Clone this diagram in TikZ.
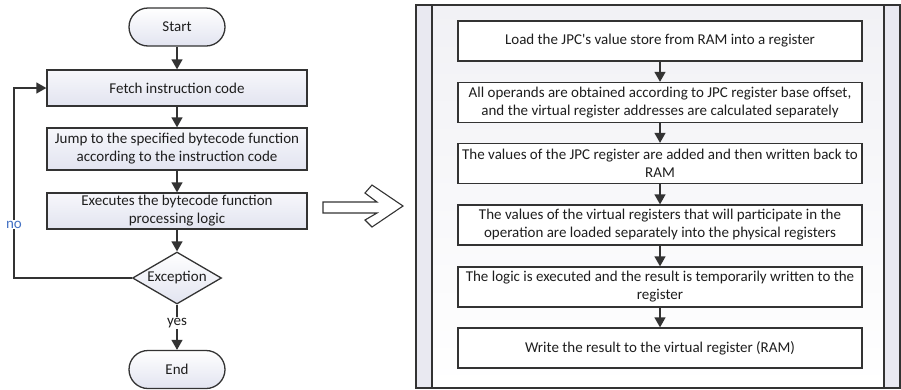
\documentclass[tikz,border=0pt]{standalone}
\usepackage{fontspec}
\setmainfont{Carlito}
\usetikzlibrary{arrows.meta,shapes.geometric}

\definecolor{linecol}{HTML}{333333}
\definecolor{txtcol}{HTML}{1E1E1E}
\definecolor{boxtop}{HTML}{F7F7FB}
\definecolor{boxbot}{HTML}{E2E4F0}
\definecolor{stripcol}{HTML}{E9E9F1}
\definecolor{panelbot}{HTML}{FFFFFF}
\definecolor{paneltop}{HTML}{F1F1F5}
\definecolor{nocol}{HTML}{4472C4}

\begin{document}
\begin{tikzpicture}[x=1pt,y=-1pt,
  font=\fontsize{15}{18}\selectfont, text=txtcol,
  base/.style={draw=linecol, line width=1.3pt, inner sep=1pt, align=center},
  procbox/.style={base, top color=boxtop, bottom color=boxbot,
    minimum width=260pt},
  termbox/.style={base, top color=white, bottom color=boxbot,
    rounded corners=19pt, minimum width=96pt, minimum height=38pt},
  decision/.style={base, shape=diamond, aspect=1.7, inner sep=0pt,
    top color=white, bottom color=boxbot,
    minimum width=89pt, minimum height=52pt},
  stepbox/.style={base, fill=white, minimum width=404pt, minimum height=40pt},
  flow/.style={draw=linecol, line width=1.3pt,
    -{Triangle[width=11pt,length=10pt]}},
  lbl/.style={fill=white, inner sep=1pt}
]
\useasboundingbox (0,0) rectangle (901,389);

% ---------------- interpreter main loop ----------------
\node[termbox] (start) at (177,27) {Start};
\node[procbox, minimum height=36pt] (fetch) at (177,88) {Fetch instruction code};
\node[procbox, minimum height=42pt] (jump) at (177,149)
  {Jump to the specified bytecode function\\according to the instruction code};
\node[procbox, minimum height=36pt] (exec) at (177,211)
  {Executes the bytecode function\\processing logic};
\node[decision] (exc) at (177,278) {Exception};
\node[termbox] (finish) at (177,369.5) {End};

\draw[flow] (start) -- (fetch);
\draw[flow] (fetch) -- (jump);
\draw[flow] (jump) -- (exec);
\draw[flow] (exec) -- (exc);
\draw[flow] (exc.south) -- node[lbl, pos=0.4] {yes} (finish.north);
\coordinate (loopc) at (14,278);
\draw[flow] (exc.west) -- (loopc)
  -- node[lbl, pos=0.28, text=nocol] {no} (loopc |- fetch.west) -- (fetch.west);

% ---------------- expansion arrow ----------------
\draw[draw=linecol, line width=1.1pt, fill=white, line join=miter]
  (323,202) -- (377,202) -- (365,193) -- (372,185) -- (403,206)
  -- (372,227) -- (365,220) -- (377,213) -- (323,213) -- cycle;

% ---------------- detailed handler steps ----------------
\shade[top color=paneltop, bottom color=panelbot] (416,5) rectangle (900,388);
\fill[stripcol] (416,5) rectangle (432,388);
\fill[stripcol] (884,5) rectangle (900,388);
\draw[linecol, line width=1.3pt] (416,5) rectangle (900,388);
\draw[linecol, line width=1.3pt] (432,5) -- (432,388);
\draw[linecol, line width=1.3pt] (884,5) -- (884,388);

\node[stepbox] (s1) at (660,41)
  {Load the JPC\textquotesingle s value store from RAM into a register};
\node[stepbox] (s2) at (660,102.5)
  {All operands are obtained according to JPC register base offset,\\and the virtual register addresses are calculated separately};
\node[stepbox] (s3) at (660,163.5)
  {The values of the JPC register are added and then written back to\\RAM};
\node[stepbox] (s4) at (660,225)
  {The values of the virtual registers that will participate in the\\operation are loaded separately into the physical registers};
\node[stepbox] (s5) at (660,287)
  {The logic is executed and the result is temporarily written to the\\register};
\node[stepbox] (s6) at (660,348)
  {Write the result to the virtual register (RAM)};

\draw[flow] (s1) -- (s2);
\draw[flow] (s2) -- (s3);
\draw[flow] (s3) -- (s4);
\draw[flow] (s4) -- (s5);
\draw[flow] (s5) -- (s6);
\end{tikzpicture}
\end{document}
